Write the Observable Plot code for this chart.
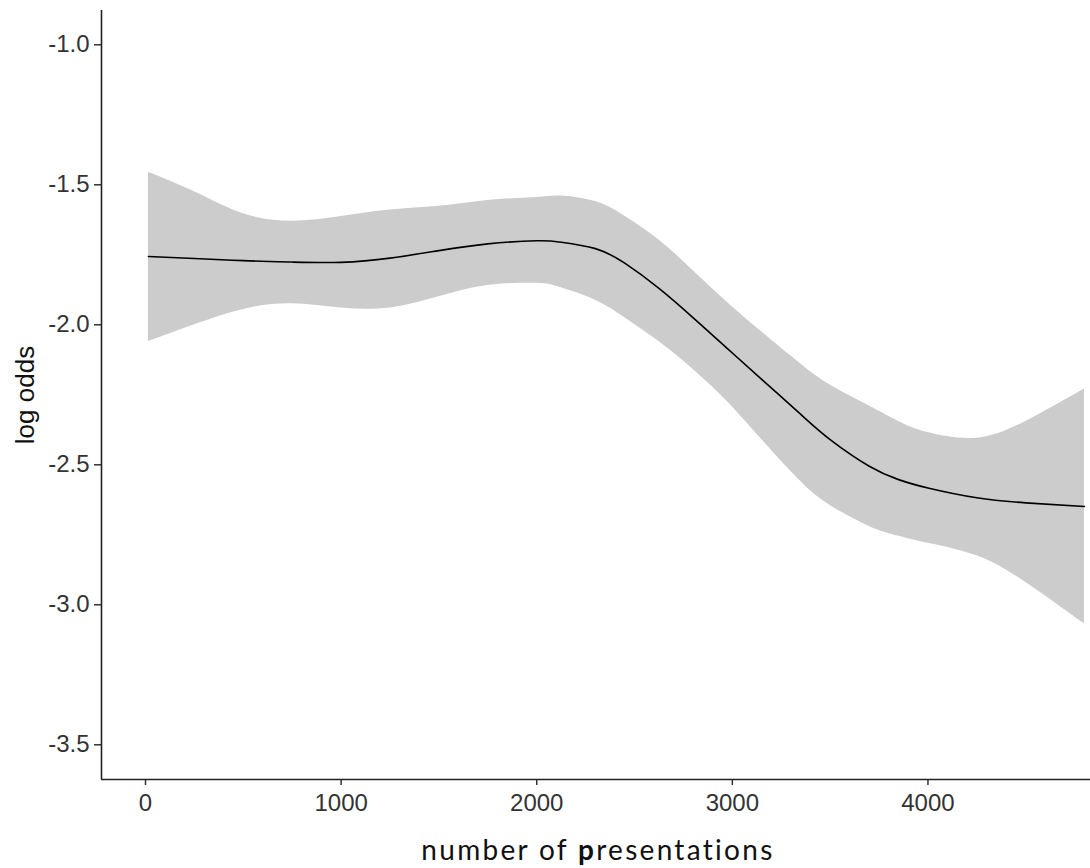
<!DOCTYPE html>
<html>
<head>
<meta charset="utf-8">
<script src="https://cdn.jsdelivr.net/npm/d3@7"></script>
<script src="https://cdn.jsdelivr.net/npm/@observablehq/plot@0.6"></script>
<style>
  html, body { margin: 0; padding: 0; background: #fff; }
  #wrap { position: relative; width: 1090px; height: 868px; overflow: hidden; }
  #xlabel { position: absolute; left: 0; width: 1196px; text-align: center; top: 830px;
            font-family: "Lato", "Open Sans", sans-serif; font-size: 28px; line-height: 38px;
            letter-spacing: 2.3px; color: #111; white-space: nowrap; }
</style>
</head>
<body>
<div id="wrap">
  <div id="chart"></div>
  <div id="xlabel">number of <b>p</b>resentations</div>
</div>
<script>
// number of presentations
const presentations = [15, 250, 500, 750, 1000, 1250, 1500, 1750, 2000, 2125, 2300, 2450, 2625, 2800, 2975, 3150, 3350, 3500, 3700, 3850, 4000, 4250, 4500, 4800];
// fitted log odds
const fitted = [-1.756, -1.763, -1.771, -1.776, -1.777, -1.762, -1.735, -1.711, -1.700, -1.705, -1.728, -1.780, -1.870, -1.975, -2.085, -2.195, -2.320, -2.410, -2.505, -2.553, -2.583, -2.618, -2.636, -2.649];
// confidence band
const upperBand = [-1.455, -1.525, -1.603, -1.630, -1.613, -1.590, -1.577, -1.556, -1.545, -1.540, -1.560, -1.612, -1.697, -1.807, -1.920, -2.025, -2.140, -2.215, -2.290, -2.345, -2.385, -2.405, -2.345, -2.229];
const lowerBand = [-2.060, -2.000, -1.945, -1.925, -1.940, -1.940, -1.900, -1.860, -1.852, -1.868, -1.912, -1.975, -2.060, -2.160, -2.275, -2.410, -2.560, -2.645, -2.720, -2.755, -2.780, -2.825, -2.920, -3.068];
const xTicks = [0, 1000, 2000, 3000, 4000];
const yTicks = [-3.5, -3.0, -2.5, -2.0, -1.5, -1.0];
const xDomain = [-225, 4831];
const yDomain = [-3.624, -0.8775];

const data = presentations.map((x, i) => ({x, fit: fitted[i], lo: lowerBand[i], hi: upperBand[i]}));

const chart = Plot.plot({
  width: 1090,
  height: 830,
  marginLeft: 101,
  marginRight: 0,
  marginTop: 10,
  marginBottom: 51,
  style: {fontFamily: "'Liberation Sans', Arial, sans-serif", fontSize: "24px", color: "#333", background: "white"},
  x: {domain: xDomain},
  y: {domain: yDomain},
  marks: [
    Plot.areaY(data, {x: "x", y1: "lo", y2: "hi", fill: "#cccccc", curve: "natural"}),
    Plot.lineY(data, {x: "x", y: "fit", stroke: "black", strokeWidth: 1.6, curve: "natural"}),
    Plot.axisX({ticks: xTicks, tickFormat: d => String(d), tickSize: 6, tickPadding: 8, label: null, stroke: "#333", strokeWidth: 1.5, fontSize: 24}),
    Plot.axisY({ticks: yTicks, tickFormat: d => d.toFixed(1), tickSize: 7, tickPadding: 5, label: null, stroke: "#333", strokeWidth: 1.5, fontSize: 24}),
    Plot.ruleX([xDomain[0]], {stroke: "#222", strokeWidth: 1.6}),
    Plot.ruleY([yDomain[0]], {stroke: "#222", strokeWidth: 1.6}),
    Plot.text(["log odds"], {frameAnchor: "left", text: d => d, rotate: -90, dx: -76, textAnchor: "middle", fontSize: 26, fill: "#111"})
  ]
});
document.getElementById("chart").appendChild(chart);
</script>
</body>
</html>
